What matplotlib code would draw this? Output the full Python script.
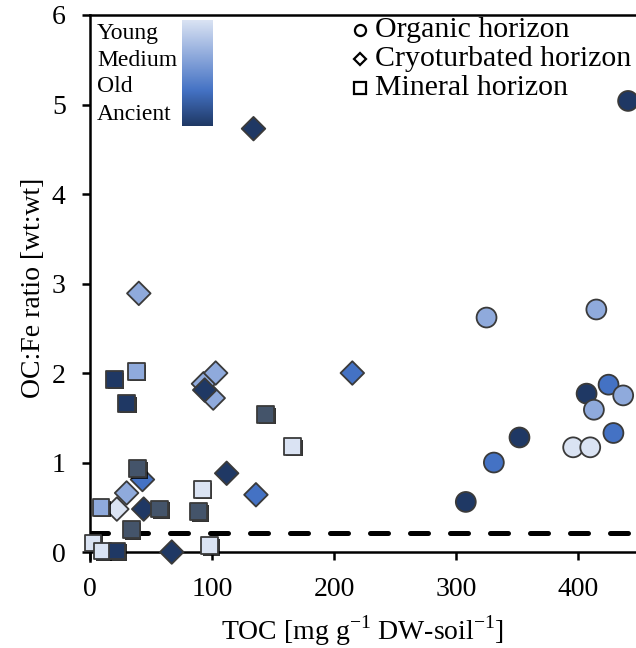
import numpy as np
import matplotlib
matplotlib.use("Agg")
import matplotlib.pyplot as plt
import matplotlib.patheffects as pe
from matplotlib.colors import LinearSegmentedColormap
from matplotlib.lines import Line2D

plt.rcParams['font.family'] = ['Liberation Serif', 'DejaVu Serif']
plt.rcParams['mathtext.fontset'] = 'custom'
plt.rcParams['mathtext.rm'] = 'Liberation Serif'

age_colors = {'Young': '#dae3f3', 'Medium': '#8faadc', 'Old': '#4472c4',
              'Ancient': '#1f3864', 'Slate': '#44546a'}

# organic horizon
org_toc = [441, 325, 415, 407, 413, 425, 437, 352, 429, 396, 410, 331, 308]
org_ratio = [5.04, 2.62, 2.71, 1.77, 1.59, 1.87, 1.75, 1.28, 1.33, 1.17, 1.17, 1.00, 0.56]
org_age = ['Ancient', 'Medium', 'Medium', 'Ancient', 'Medium', 'Old', 'Medium',
           'Ancient', 'Old', 'Young', 'Young', 'Old', 'Ancient']

# cryoturbated horizon
cry_toc = [215, 134, 40, 93, 103, 101, 94, 112, 136, 67, 44, 22, 30, 43]
cry_ratio = [2.00, 4.73, 2.89, 1.88, 2.00, 1.72, 1.81, 0.88, 0.64, 0.00, 0.48, 0.48, 0.66, 0.81]
cry_age = ['Old', 'Ancient', 'Medium', 'Medium', 'Medium', 'Medium', 'Ancient',
           'Ancient', 'Old', 'Ancient', 'Ancient', 'Young', 'Medium', 'Old']

# mineral horizon
min_toc = [20, 38, 30, 144, 166, 92, 9, 57, 89, 34, 2.5, 10, 22, 98, 39]
min_ratio = [1.93, 2.02, 1.66, 1.54, 1.18, 0.70, 0.50, 0.48, 0.45, 0.25, 0.10, 0.01, 0.01, 0.07, 0.93]
min_age = ['Ancient', 'Medium', 'Ancient', 'Slate', 'Young', 'Young', 'Medium', 'Slate',
           'Slate', 'Slate', 'Young', 'Young', 'Ancient', 'Young', 'Slate']

threshold = 0.21

fig = plt.figure(figsize=(6.36, 6.48), dpi=100)
W, H = 636, 648
ax = fig.add_axes([90 / W, 1 - 561 / H, (636 - 90) / W, (561 - 15) / H])

ax.axhline(threshold, color='black', lw=3.6, linestyle=(0, (3.6, 4.4)),
           dash_capstyle='round', zorder=2)

edge = '#3a3a3a'
ax.scatter(org_toc, org_ratio, s=205, marker='o',
           c=[age_colors[a] for a in org_age], edgecolors=edge, linewidths=1.3,
           zorder=3, clip_on=False)
ax.scatter(cry_toc, cry_ratio, s=144, marker='D',
           c=[age_colors[a] for a in cry_age], edgecolors=edge, linewidths=1.3,
           zorder=4, clip_on=False)
sq = ax.scatter(min_toc, min_ratio, s=144, marker='s',
                c=[age_colors[a] for a in min_age], edgecolors=edge, linewidths=1.3,
                zorder=5, clip_on=False)
sq.set_path_effects([pe.SimplePatchShadow(offset=(1.2, -1.2), shadow_rgbFace='black', alpha=0.8),
                     pe.Normal()])

ax.set_xlim(0, 447.5)
ax.set_ylim(-0.1, 6)
ax.set_xticks([0, 100, 200, 300, 400])
ax.set_yticks([0, 1, 2, 3, 4, 5, 6])

ax.spines['bottom'].set_position(('data', 0))
ax.spines['right'].set_visible(False)
for s in ['left', 'bottom', 'top']:
    ax.spines[s].set_linewidth(1.8)
ax.tick_params(axis='both', direction='out', length=6, width=1.8, labelsize=20)
ax.tick_params(axis='x', pad=12)
ax.tick_params(axis='y', pad=11.5)

ax.set_xlabel(r'TOC [mg g$^{\mathregular{-1}}$ DW-soil$^{\mathregular{-1}}$]', fontsize=20, labelpad=8)
ax.set_ylabel('OC:Fe ratio [wt:wt]', fontsize=20, labelpad=4)

# age colour legend
cmap = LinearSegmentedColormap.from_list('age', [age_colors['Young'], age_colors['Medium'],
                                                 age_colors['Old'], age_colors['Ancient']])
cax = fig.add_axes([182 / W, 1 - 126 / H, 31 / W, 106 / H])
cax.imshow(np.linspace(0, 1, 256).reshape(-1, 1), aspect='auto', cmap=cmap)
cax.set_axis_off()
for lab, yc in zip(['Young', 'Medium', 'Old', 'Ancient'], [33, 60, 87, 115]):
    fig.text(97 / W, 1 - yc / H, lab, fontsize=17, ha='left', va='center')

# horizon legend
for lab, mk, yc in zip(['Organic horizon', 'Cryoturbated horizon', 'Mineral horizon'],
                       ['o', 'D', 's'], [30, 59, 88]):
    fig.add_artist(Line2D([360 / W], [1 - yc / H], marker=mk, markersize=8 if mk != 'D' else 6.5,
                          markerfacecolor='white', markeredgecolor='black', markeredgewidth=1.6,
                          transform=fig.transFigure))
    fig.text(375 / W, 1 - yc / H, lab, fontsize=21.5, ha='left', va='center')

fig.savefig('out.png', dpi=100)
